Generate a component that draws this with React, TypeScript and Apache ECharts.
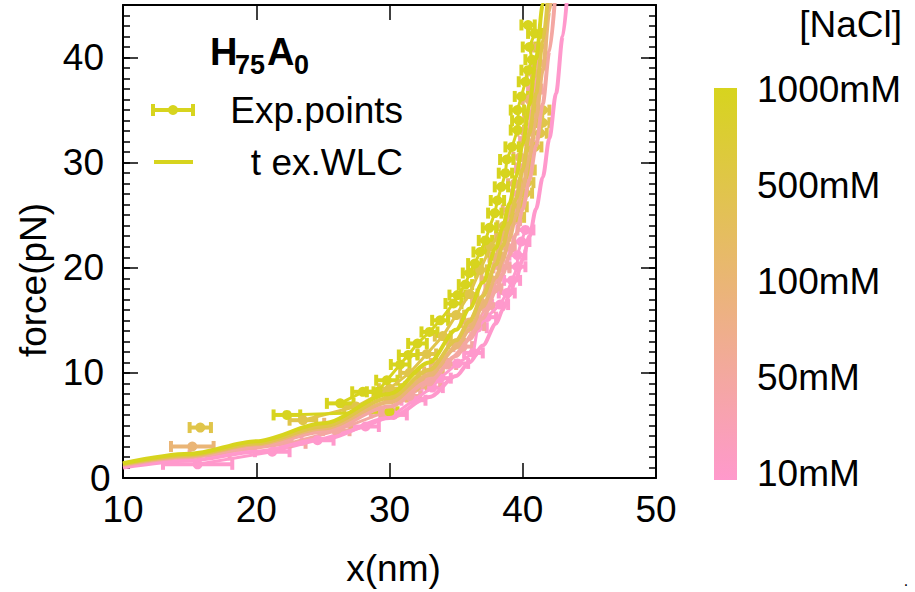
import React, { useEffect, useRef } from 'react';
import * as echarts from 'echarts';

// ---- data ----
const concentrations = ['10mM', '50mM', '100mM', '500mM', '1000mM'];
const colorbarTitle = '[NaCl]';
const yTickLabels = [0, 10, 20, 30, 40];
const xTickLabels = [10, 20, 30, 40, 50];

// experimental points: [x (nm), force (pN), x error (nm)]; null = break in the connecting line
const exp10 = [
  [15.6, 1.3, 2.6], [21.2, 2.5, 1.3], [24.6, 3.6, 1.2], [28.2, 4.9, 1.0], [30.3, 6.0, 1.0],
  [31.8, 7.4, 0.9], [33.2, 8.6, 0.8], [33.8, 9.5, 0.8], [35.1, 10.9, 0.8], [36.3, 11.9, 0.7],
  [36.6, 14.3, 0.7], [37.3, 15.3, 0.7], [38.3, 16.5, 0.6], [38.8, 17.6, 0.6], [39.2, 18.8, 0.6],
  [39.6, 20.1, 0.6], [39.6, 21.2, 0.6], [39.9, 22.5, 0.6], [40.2, 23.6, 0.6],
];
const exp50 = [
  [16.5, 2.2, 1.5], [22.5, 3.3, 1.2], [26.0, 4.5, 1.0], [29.5, 6.2, 0.9], [31.5, 7.8, 0.8],
  [33.0, 9.2, 0.8], [34.3, 10.8, 0.7], [35.5, 12.5, 0.7], [36.5, 14.5, 0.6], [37.2, 16.2, 0.6],
  [37.8, 18.0, 0.6], [38.4, 20.0, 0.6], [38.8, 22.0, 0.6], [39.3, 24.5, 0.5], [39.7, 27.0, 0.5],
  [40.0, 29.5, 0.5], [40.3, 32.0, 0.5], [40.6, 34.5, 0.5], [40.9, 37.0, 0.5], [41.2, 39.5, 0.5],
];
const exp100 = [
  [15.2, 3.0, 1.6], null, [26.1, 5.2, 1.0], [30.5, 7.7, 0.8], [32.0, 8.7, 0.8], [33.3, 10.1, 0.7],
  [33.8, 10.9, 0.7], [35.0, 12.8, 0.6], [36.0, 14.8, 0.6], [36.8, 16.8, 0.6], [37.5, 19.0, 0.6],
  [38.0, 21.0, 0.5], [38.5, 23.0, 0.5], [39.0, 25.5, 0.5], [39.4, 28.0, 0.5], [39.8, 30.5, 0.5],
  [40.1, 33.0, 0.5], [40.5, 36.0, 0.5], [40.8, 38.5, 0.5], [41.2, 41.0, 0.5],
];
const exp500 = [
  [15.8, 4.8, 0.8], null, [23.5, 5.5, 1.0], [27.5, 6.8, 0.9], [30.0, 8.5, 0.8], [31.5, 10.0, 0.7],
  [32.8, 11.8, 0.7], [34.0, 13.5, 0.6], [35.0, 15.5, 0.6], [36.0, 17.5, 0.6], [36.8, 19.8, 0.5],
  [37.6, 22.0, 0.5], [38.6, 24.0, 0.5], [39.6, 24.8, 0.5], [39.8, 25.8, 0.5], [40.2, 27.1, 0.5],
  [40.3, 28.1, 0.5], [40.4, 29.3, 0.5], [40.9, 31.5, 0.5], [41.3, 32.8, 0.5], [41.5, 33.8, 0.5],
  [41.5, 35.0, 0.5],
];
const exp1000 = [
  [22.3, 6.0, 1.0], [30.0, 6.3, 0.6], null, [26.3, 7.1, 1.0], [28.0, 8.2, 0.8], [29.1, 8.2, 0.8],
  [29.8, 9.3, 0.8], [30.8, 10.8, 0.7], [31.4, 11.7, 0.7], [32.1, 12.8, 0.7], [33.0, 13.9, 0.6],
  [33.8, 15.0, 0.6], [34.8, 16.6, 0.6], [35.1, 17.4, 0.6], [35.7, 18.4, 0.5], [36.0, 19.5, 0.5],
  [36.4, 20.4, 0.5], [36.8, 21.5, 0.5], [37.2, 22.6, 0.5], [37.5, 23.8, 0.5], [37.9, 25.2, 0.5],
  [38.1, 26.4, 0.5], [38.4, 27.7, 0.5], [38.7, 29.0, 0.5], [38.8, 30.3, 0.5], [39.2, 31.5, 0.5],
  [39.6, 33.1, 0.5], [39.7, 34.0, 0.5], [39.6, 35.0, 0.5], [39.9, 36.3, 0.5], [40.2, 37.7, 0.5],
  [40.4, 38.8, 0.5], [40.7, 39.8, 0.5], [40.5, 41.0, 0.5], [40.9, 42.3, 0.5], [40.4, 43.1, 0.5],
];

// fitted extensible WLC curves: [x (nm), force (pN)]
const fit10 = [
  [10, 1.0], [15, 1.66], [20, 2.5], [25, 3.7], [30, 5.7], [33, 7.7], [35, 9.7], [36, 11.0],
  [37, 12.6], [38, 14.7], [38.5, 16.0], [39, 17.4], [39.5, 19.0], [40, 20.8], [40.5, 23.0],
  [41, 25.6], [41.5, 28.6], [42, 32.3], [42.5, 36.6], [43, 42.0], [43.5, 48.7],
];
const fit50 = [
  [10, 1.2], [15, 2.0], [20, 3.0], [25, 4.4], [30, 6.8], [33, 9.2], [35, 11.6], [36, 13.2],
  [37, 15.2], [38, 17.8], [38.5, 19.4], [39, 21.2], [39.5, 23.2], [40, 25.6], [40.5, 28.4],
  [41, 31.6], [41.5, 35.6], [42, 40.6], [42.5, 47.0],
];
const fit100 = [
  [10, 1.3], [15, 2.1], [20, 3.2], [25, 4.7], [30, 7.2], [33, 9.8], [35, 12.4], [36, 14.1],
  [37, 16.3], [38, 19.1], [38.5, 20.8], [39, 22.8], [39.5, 25.0], [40, 27.6], [40.5, 30.6],
  [41, 34.2], [41.5, 38.8], [42, 44.4], [42.5, 51.0],
];
const fit500 = [
  [10, 1.35], [15, 2.2], [20, 3.3], [25, 4.9], [30, 7.6], [33, 10.3], [35, 13.1], [36, 14.9],
  [37, 17.3], [38, 20.3], [38.5, 22.1], [39, 24.2], [39.5, 26.6], [40, 29.4], [40.5, 32.8],
  [41, 36.6], [41.5, 41.5], [42, 47.5],
];
const fit1000 = [
  [10, 1.4], [15, 2.3], [20, 3.5], [25, 5.2], [30, 8.0], [33, 11.0], [35, 14.1], [36, 16.1],
  [37, 18.6], [38, 21.9], [38.5, 23.9], [39, 26.1], [39.5, 28.7], [40, 31.8], [40.5, 35.5],
  [41, 39.9], [41.5, 45.0], [42, 51.3],
];

const expSets = [exp10, exp50, exp100, exp500, exp1000];
const fitSets = [fit10, fit50, fit100, fit500, fit1000];

// ---- styles ----
const colors = ['#ff99cc', '#f4a7a2', '#eab576', '#e0c54a', '#d7d41e'];
const FONT = "'Liberation Sans', Arial, Helvetica, sans-serif";
const FS = 37;

export default function App() {
  const ref = useRef<HTMLDivElement>(null);

  useEffect(() => {
    if (!ref.current) return;
    const chart = echarts.init(ref.current, null, { renderer: 'svg' });

    const series: any[] = [];
    expSets.forEach((set: any[], i) => {
      const color = colors[i];
      series.push({
        type: 'custom',
        name: concentrations[i] + ' err',
        xAxisIndex: 0,
        yAxisIndex: 0,
        clip: true,
        encode: { x: 0, y: 1 },
        data: set.filter((d) => d !== null),
        z: 2,
        renderItem: (params: any, api: any) => {
          const x = api.value(0);
          const y = api.value(1);
          const e = api.value(2);
          const p1 = api.coord([x - e, y]);
          const p2 = api.coord([x + e, y]);
          const h = 5.5;
          const st = { stroke: color, lineWidth: 4 };
          return {
            type: 'group',
            children: [
              { type: 'line', shape: { x1: p1[0], y1: p1[1], x2: p2[0], y2: p2[1] }, style: st },
              { type: 'line', shape: { x1: p1[0], y1: p1[1] - h, x2: p1[0], y2: p1[1] + h }, style: st },
              { type: 'line', shape: { x1: p2[0], y1: p2[1] - h, x2: p2[0], y2: p2[1] + h }, style: st },
            ],
          };
        },
      });
      series.push({
        type: 'line',
        name: concentrations[i] + ' exp',
        xAxisIndex: 0,
        yAxisIndex: 0,
        data: set.map((d) => (d === null ? ['-', '-'] : [d[0], d[1]])),
        connectNulls: false,
        symbol: 'circle',
        symbolSize: 10,
        itemStyle: { color },
        lineStyle: { color, width: 3 },
        z: 3,
      });
    });
    fitSets.forEach((set, i) => {
      const color = colors[i];
      series.push({
        type: 'line',
        name: concentrations[i] + ' fit',
        xAxisIndex: 0,
        yAxisIndex: 0,
        data: set,
        smooth: 0.3,
        smoothMonotone: 'x',
        symbol: 'none',
        lineStyle: { color, width: 4 },
        clip: true,
        z: 4,
      });
    });

    const tickStyle = { color: '#000', width: 1.5 };
    const lineStyle = { color: '#000', width: 2 };

    const barTop = 88;
    const barBottom = 480;
    const labelStep = (barBottom - barTop - 8) / (concentrations.length - 1);
    const graphics: any[] = [
      {
        type: 'rect',
        shape: { x: 714, y: barTop, width: 23, height: barBottom - barTop },
        style: {
          fill: new echarts.graphic.LinearGradient(0, 0, 0, 1, [
            { offset: 0, color: colors[4] },
            { offset: 0.25, color: colors[3] },
            { offset: 0.5, color: colors[2] },
            { offset: 0.75, color: colors[1] },
            { offset: 1, color: colors[0] },
          ]),
        },
      },
      {
        type: 'text',
        x: 902,
        y: 24,
        style: { text: colorbarTitle, fontSize: FS, fontFamily: FONT, fill: '#000', align: 'right', verticalAlign: 'middle' },
      },
      ...concentrations.map((c, i) => ({
        type: 'text',
        x: 757,
        y: barTop + 1 + (concentrations.length - 1 - i) * labelStep,
        style: { text: c, fontSize: FS, fontFamily: FONT, fill: '#000', align: 'left', verticalAlign: 'middle' },
      })),
      // y axis title
      {
        type: 'text', x: 33, y: 280, rotation: Math.PI / 2,
        style: { text: 'force(pN)', fontSize: FS, fontFamily: FONT, fill: '#000', align: 'center', verticalAlign: 'middle' },
      },
      // legend title H75A0
      { type: 'text', x: 210, y: 52, style: { text: 'H', fontSize: 38, fontWeight: 'bold', fontFamily: FONT, fill: '#000', verticalAlign: 'middle' } },
      { type: 'text', x: 235, y: 65, style: { text: '75', fontSize: 27, fontWeight: 'bold', fontFamily: FONT, fill: '#000', verticalAlign: 'middle' } },
      { type: 'text', x: 267, y: 52, style: { text: 'A', fontSize: 38, fontWeight: 'bold', fontFamily: FONT, fill: '#000', verticalAlign: 'middle' } },
      { type: 'text', x: 294, y: 65, style: { text: '0', fontSize: 27, fontWeight: 'bold', fontFamily: FONT, fill: '#000', verticalAlign: 'middle' } },
      // legend samples
      { type: 'line', shape: { x1: 153, y1: 110, x2: 193, y2: 110 }, style: { stroke: colors[4], lineWidth: 4 } },
      { type: 'line', shape: { x1: 153, y1: 104, x2: 153, y2: 116 }, style: { stroke: colors[4], lineWidth: 4 } },
      { type: 'line', shape: { x1: 193, y1: 104, x2: 193, y2: 116 }, style: { stroke: colors[4], lineWidth: 4 } },
      { type: 'circle', shape: { cx: 173, cy: 110, r: 5 }, style: { fill: colors[4] } },
      { type: 'text', x: 403, y: 110, style: { text: 'Exp.points', fontSize: FS, fontFamily: FONT, fill: '#000', align: 'right', verticalAlign: 'middle' } },
      { type: 'line', shape: { x1: 154, y1: 162, x2: 193, y2: 162 }, style: { stroke: colors[4], lineWidth: 4 } },
      { type: 'text', x: 403, y: 162, style: { text: 't ex.WLC', fontSize: FS, fontFamily: FONT, fill: '#000', align: 'right', verticalAlign: 'middle' } },
      { type: 'text', x: 906, y: 580, style: { text: '.', fontSize: 16, fontFamily: FONT, fill: '#000', align: 'center', verticalAlign: 'middle' } },
    ];

    chart.setOption({
      animation: false,
      backgroundColor: '#fff',
      grid: { left: 123, top: 5, width: 533, height: 473, containLabel: false, outerBoundsMode: 'none' },
      xAxis: [
        {
          type: 'value', position: 'bottom', min: xTickLabels[0], max: xTickLabels[xTickLabels.length - 1], interval: 10,
          name: 'x(nm)', nameLocation: 'middle', nameGap: 72,
          nameTextStyle: { fontSize: FS, fontFamily: FONT, color: '#000', padding: [0, 0, 0, 8] },
          axisLine: { show: true, onZero: false, lineStyle },
          axisTick: { show: true, inside: true, length: 15, lineStyle: tickStyle },
          axisLabel: { show: true, margin: 13, fontSize: FS, fontFamily: FONT, color: '#000' },
          splitLine: { show: false },
        },
        {
          type: 'value', position: 'top', min: xTickLabels[0], max: xTickLabels[xTickLabels.length - 1], interval: 10,
          axisLine: { show: true, onZero: false, lineStyle },
          axisTick: { show: true, inside: true, length: 15, lineStyle: tickStyle },
          axisLabel: { show: false },
          splitLine: { show: false },
        },
      ],
      yAxis: [
        {
          type: 'value', position: 'left', min: 0, max: 45, interval: 1,
          axisLine: { show: true, onZero: false, lineStyle },
          axisTick: { show: true, inside: true, length: 7, lineStyle: tickStyle },
          axisLabel: {
            show: true, margin: 19, fontSize: FS, fontFamily: FONT, color: '#000',
            formatter: (v: number) => (v === 0 ? '{z|0}' : yTickLabels.includes(v) ? String(v) : ''),
            rich: { z: { width: 14, align: 'left', fontSize: FS, fontFamily: FONT, color: '#000' } },
          },
          splitLine: { show: false },
        },
        {
          type: 'value', position: 'left', min: 0, max: 45, interval: 10,
          axisLine: { show: false },
          axisTick: { show: true, inside: true, length: 15, lineStyle: tickStyle },
          axisLabel: { show: false },
          splitLine: { show: false },
        },
        {
          type: 'value', position: 'right', min: 0, max: 45, interval: 1,
          axisLine: { show: true, onZero: false, lineStyle },
          axisTick: { show: true, inside: true, length: 7, lineStyle: tickStyle },
          axisLabel: { show: false },
          splitLine: { show: false },
        },
        {
          type: 'value', position: 'right', min: 0, max: 45, interval: 10,
          axisLine: { show: false },
          axisTick: { show: true, inside: true, length: 15, lineStyle: tickStyle },
          axisLabel: { show: false },
          splitLine: { show: false },
        },
      ],
      series,
      graphic: graphics,
    });

    return () => chart.dispose();
  }, []);

  return (
    <div
      ref={ref}
      style={{ position: 'fixed', left: 0, top: 0, width: 915, height: 592, background: '#fff' }}
    />
  );
}
